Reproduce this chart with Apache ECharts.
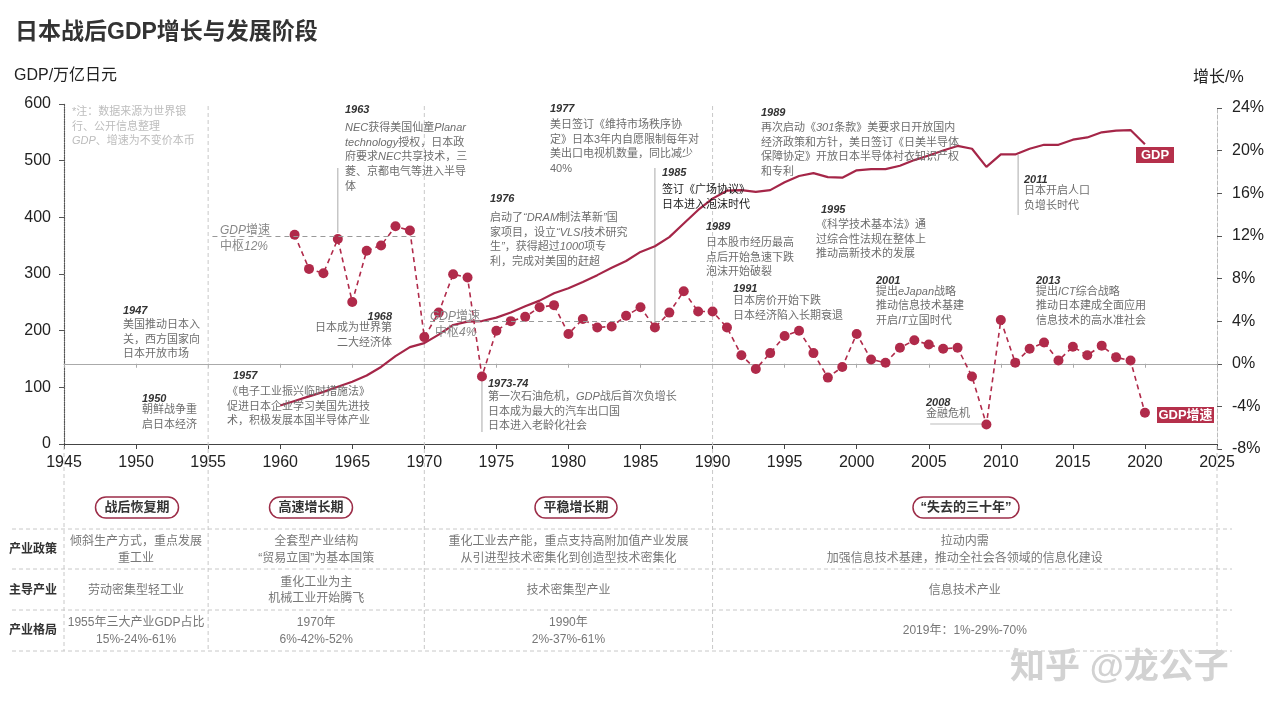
<!DOCTYPE html>
<html><head><meta charset="utf-8">
<script src="https://cdn.jsdelivr.net/npm/echarts@6/dist/echarts.min.js"></script>
<style>html,body{margin:0;padding:0;background:#fff}#c{width:1280px;height:719px}</style>
</head><body><div id="c"></div>
<script>
// ---------------- DATA ----------------
const gdpYears = [1960,1961,1962,1963,1964,1965,1966,1967,1968,1969,1970,1971,1972,1973,1974,1975,1976,1977,1978,1979,1980,1981,1982,1983,1984,1985,1986,1987,1988,1989,1990,1991,1992,1993,1994,1995,1996,1997,1998,1999,2000,2001,2002,2003,2004,2005,2006,2007,2008,2009,2010,2011,2012,2013,2014,2015,2016,2017,2018,2019,2020];
const gdpValues = [68,76,84,92,101,110,121,136,155,171,178,193,210,216,217,223,232,243,253,266,275,286,298,311,323,339,349,365,389,413,433,447,448,445,448,462,473,478,471,470,483,485,485,491,501,509,518,526,521,489,511,511,521,528,528,537,541,550,553,554,529];
const growthYears = [1961,1962,1963,1964,1965,1966,1967,1968,1969,1970,1971,1972,1973,1974,1975,1976,1977,1978,1979,1980,1981,1982,1983,1984,1985,1986,1987,1988,1989,1990,1991,1992,1993,1994,1995,1996,1997,1998,1999,2000,2001,2002,2003,2004,2005,2006,2007,2008,2009,2010,2011,2012,2013,2014,2015,2016,2017,2018,2019,2020];
const growthValues = [12.1,8.9,8.5,11.7,5.8,10.6,11.1,12.9,12.5,2.5,4.8,8.4,8.1,-1.2,3.1,4.0,4.4,5.3,5.5,2.8,4.2,3.4,3.5,4.5,5.3,3.4,4.8,6.8,4.9,4.9,3.4,0.8,-0.5,1.0,2.6,3.1,1.0,-1.3,-0.3,2.8,0.4,0.1,1.5,2.2,1.8,1.4,1.5,-1.2,-5.7,4.1,0.1,1.4,2.0,0.3,1.6,0.8,1.7,0.6,0.3,-4.6];
const yearTicks = {min:1945, max:2025, step:5};
const gdpTicks = {min:0, max:600, step:100};
const growthTicks = {min:-8, max:24, step:4};
const pivotFrom = [1955.3, 1970.4];
const pivotTo = [1969.6, 1990];
const pivotValues = [12, 4];
const phaseBounds = [1945, 1955, 1970, 1990, 2025];
const phaseNames = ['战后恢复期','高速增长期','平稳增长期','“失去的三十年”'];
const rowLabels = ['产业政策','主导产业','产业格局'];
const policyTexts = ['倾斜生产方式，重点发展\n重工业','全套型产业结构\n“贸易立国”为基本国策','重化工业去产能，重点支持高附加值产业发展\n从引进型技术密集化到创造型技术密集化','拉动内需\n加强信息技术基建，推动全社会各领域的信息化建设'];
const industryTexts = ['劳动密集型轻工业','重化工业为主\n机械工业开始腾飞','技术密集型产业','信息技术产业'];
const structureTexts = ['1955年三大产业GDP占比\n15%-24%-61%','1970年\n6%-42%-52%','1990年\n2%-37%-61%','2019年：1%-29%-70%'];

// ---------------- STYLE / LAYOUT ----------------
const F = "'Liberation Sans','Noto Sans CJK SC',sans-serif";
const RED = '#b02a4a';
const LH = 14.7;
const annotations = [
  {x:345, yc:110, year:'1963', by:128, lines:['{i|NEC}获得美国仙童{i|Planar}','{i|technology}授权，日本政','府要求{i|NEC}共享技术，三','菱、京都电气等进入半导','体']},
  {x:550, yc:109, year:'1977', by:125, lines:['美日签订《维持市场秩序协','定》日本3年内自愿限制每年对','美出口电视机数量，同比减少','40%']},
  {x:761, yc:113, year:'1989', by:128, lines:['再次启动《{i|301}条款》美要求日开放国内','经济政策和方针，美日签订《日美半导体','保障协定》开放日本半导体衬衣知识产权','和专利']},
  {x:490, yc:199, year:'1976', by:218, lines:['启动了{i|“DRAM}制法革新{i|”}国','家项目，设立{i|“VLSI}技术研究','生{i|”}，获得超过{i|1000}项专','利，完成对美国的赶超']},
  {x:662, yc:173, year:'1985', by:190, lines:['签订《广场协议》','日本进入泡沫时代'], dark:true},
  {x:706, yc:227, year:'1989', by:243, lines:['日本股市经历最高','点后开始急速下跌','泡沫开始破裂']},
  {x:821, bx:816, yc:210, year:'1995', by:225, lines:['《科学技术基本法》通','过综合性法规在整体上','推动高新技术的发展']},
  {x:733, yc:289, year:'1991', by:301, lines:['日本房价开始下跌','日本经济陷入长期衰退']},
  {x:876, yc:281, year:'2001', by:291.5, lines:['提出{i|eJapan}战略','推动信息技术基建','开启{i|IT}立国时代']},
  {x:1036, yc:281, year:'2013', by:291.5, lines:['提出{i|ICT}综合战略','推动日本建成全面应用','信息技术的高水准社会']},
  {x:1024, yc:180, year:'2011', by:191, lines:['日本开启人口','负增长时代']},
  {x:926, yc:403, year:'2008', by:414, lines:['金融危机']},
  {x:123, yc:311, year:'1947', by:325, lines:['美国推动日本入','关，西方国家向','日本开放市场']},
  {x:142, yc:399, year:'1950', by:410, lines:['朝鲜战争重','启日本经济']},
  {x:233, bx:227, yc:376, year:'1957', by:392, lines:['《电子工业振兴临时措施法》','促进日本企业学习美国先进技','术，积极发展本国半导体产业']},
  {x:392, yc:317, year:'1968', by:328, lines:['日本成为世界第','二大经济体'], align:'right'},
  {x:488, yc:384, year:'1973-74', by:397, lines:['第一次石油危机，{i|GDP}战后首次负增长','日本成为最大的汽车出口国','日本进入老龄化社会']}
];

const chart = echarts.init(document.getElementById('c'), null, {renderer:'canvas'});

const option = {
  animation:false,
  backgroundColor:'#fff',
  textStyle:{fontFamily:F},
  grid:[{left:64,right:63,top:104,bottom:275},{left:64,right:63,top:108,bottom:270}],
  xAxis:[
    {gridIndex:0,type:'value',min:yearTicks.min,max:yearTicks.max,interval:yearTicks.step,
     axisLine:{lineStyle:{color:'#444',width:1.2}},
     axisTick:{show:true,length:5,lineStyle:{color:'#444'}},
     axisLabel:{fontSize:16,color:'#222',margin:11,formatter:v=>String(v)},
     splitLine:{show:false}},
    {gridIndex:1,type:'value',min:yearTicks.min,max:yearTicks.max,interval:yearTicks.step,
     axisLine:{onZero:true,lineStyle:{color:'#aaa',width:1}},
     axisTick:{show:true,length:4,lineStyle:{color:'#aaa'}},
     axisLabel:{show:false},splitLine:{show:false}}
  ],
  yAxis:[
    {gridIndex:0,type:'value',min:gdpTicks.min,max:gdpTicks.max,interval:gdpTicks.step,position:'left',
     axisLine:{show:true,lineStyle:{color:'#555',type:'dotted',width:1.2}},
     axisTick:{show:true,length:5,lineStyle:{color:'#555'}},
     axisLabel:{fontSize:16,color:'#222',margin:13},
     splitLine:{show:false}},
    {gridIndex:1,type:'value',min:growthTicks.min,max:growthTicks.max,interval:growthTicks.step,position:'right',
     axisLine:{show:true,lineStyle:{color:'#bbb',type:'dashed'}},
     axisTick:{show:true,length:5,lineStyle:{color:'#555'}},
     axisLabel:{fontSize:16,color:'#222',margin:15,formatter:'{value}%'},
     splitLine:{show:false}}
  ],
  series:[
    {name:'GDP',type:'line',xAxisIndex:0,yAxisIndex:0,
     data:gdpYears.map((y,i)=>[y,gdpValues[i]]),
     symbol:'none',lineStyle:{color:'#a52648',width:2.2},z:3},
    {name:'GDP增速',type:'line',xAxisIndex:1,yAxisIndex:1,
     data:growthYears.map((y,i)=>[y,growthValues[i]]),
     symbol:'circle',symbolSize:10,itemStyle:{color:RED},
     lineStyle:{color:RED,width:1.6,type:[5,4]},z:4,
     markLine:{silent:true,symbol:'none',label:{show:false},
       lineStyle:{color:'#999',type:[5,4],width:1},
       data:pivotValues.map((v,i)=>[{coord:[pivotFrom[i],v]},{coord:[pivotTo[i],v]}])}}
  ]
};
chart.setOption(option);

// ---------------- GRAPHIC (text, table, guides) ----------------
const px = y => chart.convertToPixel({xAxisIndex:0}, y);
const g = [];
function txt(x,y,text,o){
  o=o||{};
  const fs=o.fontSize||11, col=o.fill||'#6e6e6e';
  g.push({type:'text',x:x,y:y,z:o.z||10,silent:true,style:{
    text:text,fill:col,fontSize:fs,fontFamily:F,fontWeight:o.fontWeight||'normal',fontStyle:o.fontStyle||'normal',
    textAlign:o.align||'left',verticalAlign:o.va||'middle',lineHeight:o.lh||LH,
    rich:{i:{fontStyle:'italic',fontSize:fs,fontFamily:F,fill:col,fontWeight:o.fontWeight||'normal',lineHeight:o.lh||LH}}
  }});
}
function line(x1,y1,x2,y2,color,dash,w){
  g.push({type:'line',silent:true,z:1,shape:{x1:x1,y1:y1,x2:x2,y2:y2},
    style:{stroke:color,lineWidth:w||1,lineDash:dash||null}});
}
// title & axis names
txt(15,33,'日本战后GDP增长与发展阶段',{fontSize:23,fontWeight:'bold',fill:'#333'});
txt(14,76,'GDP/万亿日元',{fontSize:16,fill:'#222'});
txt(1193,78,'增长/%',{fontSize:16,fill:'#222'});
// note
txt(72,104.5,'*注：数据来源为世界银\n行、公开信息整理\n{i|GDP}、增速为不变价本币',{fill:'#bdbdbd',va:'top'});
// phase dashed verticals
[1955,1970,1990].forEach(y=>line(px(y),106,px(y),651,'#c8c8c8',[4,3]));
[1945,2025].forEach(y=>line(px(y),446,px(y),651,'#c8c8c8',[4,3]));
// table horizontal dashed lines
[529,569,610,651].forEach(y=>line(12,y,1232,y,'#c8c8c8',[4,3]));
// leader lines
line(px(1964),168,px(1964),233,'#aaa');
line(px(1986),168,px(1986),326,'#aaa');
line(px(1974),378,px(1974),432,'#aaa');
line(px(2011.2),155,px(2011.2),215,'#aaa');
line(px(2005.1),424,px(2008.7),424,'#bbb');
// annotations
annotations.forEach(a=>{
  const al=a.align||'left';
  txt(a.x,a.yc,a.year,{fontWeight:'bold',fontStyle:'italic',fill:'#333',align:al});
  txt(a.bx||a.x,a.by-LH/2,a.lines.join('\n'),{va:'top',align:al,fill:a.dark?'#1a1a1a':'#6e6e6e'});
});
// pivot labels
txt(220,231,'{i|GDP}增速',{fontSize:12,fill:'#888'});
txt(220,247,'中枢{i|12%}',{fontSize:12,fill:'#888'});
txt(430,317,'{i|GDP}增速',{fontSize:12,fill:'#888'});
txt(435,333,'中枢{i|4%}',{fontSize:12,fill:'#888'});
// series tags
g.push({type:'rect',silent:true,z:10,shape:{x:1136,y:147,width:38,height:16},style:{fill:'#b5304b'}});
txt(1155,155.5,'GDP',{fontSize:13,fontWeight:'bold',fill:'#fff',align:'center'});
g.push({type:'rect',silent:true,z:10,shape:{x:1157,y:407,width:57,height:16},style:{fill:'#b5304b'}});
txt(1185.5,415.5,'GDP增速',{fontSize:13,fontWeight:'bold',fill:'#fff',align:'center'});
// phase pills
const pillCenters=[137,311,576,966], pillW=[83,83,82,106];
phaseNames.forEach((n,i)=>{
  g.push({type:'rect',silent:true,z:5,shape:{x:pillCenters[i]-pillW[i]/2,y:497,width:pillW[i],height:21,r:10.5},
    style:{fill:'#fff',stroke:'#9c2d48',lineWidth:1.5}});
  txt(pillCenters[i],507.5,n,{fontSize:13,fontWeight:'bold',fill:'#333',align:'center'});
});
// table
const rowCenters=[550,590.5,631];
rowLabels.forEach((r,i)=>txt(9,rowCenters[i],r,{fontSize:12,fontWeight:'bold',fill:'#333'}));
[policyTexts,industryTexts,structureTexts].forEach((row,ri)=>{
  row.forEach((t,ci)=>{
    const cx=(px(phaseBounds[ci])+px(phaseBounds[ci+1]))/2;
    txt(cx,rowCenters[ri],t,{fontSize:12,fill:'#777',align:'center',lh:16.5});
  });
});
// watermark
txt(1010,668,'知乎 @龙公子',{fontSize:35,fill:'#d2d2d2',fontWeight:'bold'});

chart.setOption({graphic:{elements:g}});
</script></body></html>
